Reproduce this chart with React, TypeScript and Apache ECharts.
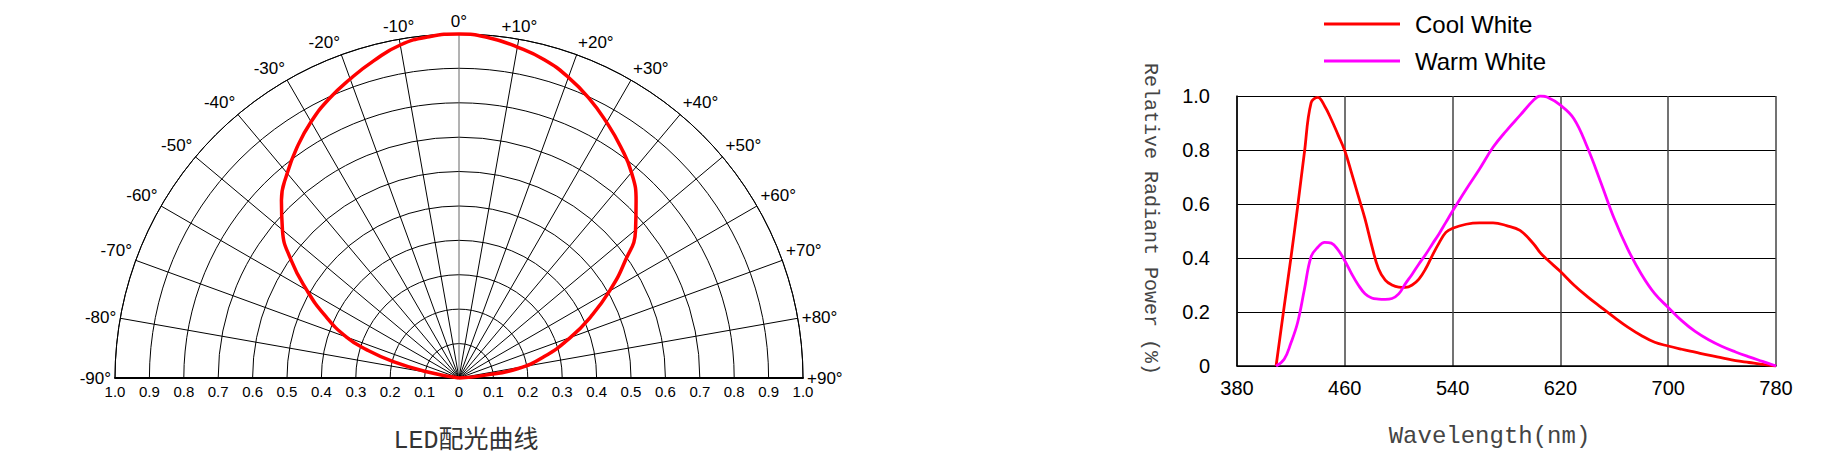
import React, { useEffect, useRef } from 'react';
import * as echarts from 'echarts';

// ---- Polar (LED light distribution) ----
const polarAngles = [
  -90, -79, -76, -73, -70, -65, -60, -55, -50, -45, -40, -35, -30, -25, -20, -15, -10, -5,
  0, 5, 10, 15, 20, 25, 30, 35, 40, 45, 50, 55, 60, 65, 70, 76, 81, 84, 90,
];
const polarIntensity = [
  0, 0.096, 0.197, 0.28, 0.348, 0.43, 0.511, 0.595, 0.67, 0.73, 0.777, 0.82, 0.86, 0.895, 0.925, 0.955, 0.983, 0.996,
  1.0, 0.993, 0.977, 0.958, 0.93, 0.896, 0.858, 0.82, 0.78, 0.728, 0.67, 0.588, 0.505, 0.423, 0.345, 0.254, 0.172, 0.073, 0,
];
const polarTitle = 'LED配光曲线';

// ---- Spectrum ----
const wavelengths = [
  409, 415, 420, 425, 430, 435, 440, 445, 450, 455,
  460, 465, 470, 475, 480, 485, 490, 495, 500, 505,
  510, 515, 520, 525, 530, 535, 540, 550, 560, 570,
  580, 590, 600, 605, 610, 620, 630, 640, 650, 660,
  670, 680, 690, 700, 710, 720, 730, 740, 750, 760,
  770, 780,
];
const coolWhite = [
  0, 0.22, 0.4, 0.59, 0.79, 0.975, 0.995, 0.963, 0.913, 0.856,
  0.797, 0.715, 0.63, 0.545, 0.446, 0.36, 0.318, 0.3, 0.292, 0.291,
  0.3, 0.322, 0.36, 0.41, 0.456, 0.495, 0.51, 0.525, 0.53, 0.53,
  0.52, 0.502, 0.453, 0.42, 0.395, 0.35, 0.3, 0.257, 0.218, 0.18,
  0.144, 0.113, 0.088, 0.074, 0.062, 0.051, 0.04, 0.03, 0.02, 0.013,
  0.006, 0,
];
const warmWhite = [
  0, 0.025, 0.085, 0.161, 0.283, 0.405, 0.44, 0.458, 0.455, 0.43,
  0.39, 0.342, 0.3, 0.268, 0.252, 0.248, 0.247, 0.25, 0.267, 0.305,
  0.34, 0.378, 0.413, 0.452, 0.49, 0.532, 0.574, 0.654, 0.73, 0.81,
  0.872, 0.928, 0.984, 1.0, 0.996, 0.966, 0.916, 0.81, 0.68, 0.545,
  0.433, 0.341, 0.268, 0.217, 0.168, 0.128, 0.097, 0.072, 0.052, 0.034,
  0.017, 0,
];
const seriesNames = ['Cool White', 'Warm White'];
const xAxisName = 'Wavelength(nm)';
const yAxisName = 'Relative Radiant Power (%)';

const SANS = '"Liberation Sans", Arial, sans-serif';
const MONO = '"Liberation Mono", "Noto Sans CJK SC", monospace';

export default function App() {
  const ref = useRef<HTMLDivElement>(null);

  useEffect(() => {
    if (!ref.current) return;
    const chart = echarts.init(ref.current, null, { renderer: 'svg', width: 1826, height: 460 });

    // radial line colours: 0° line is grey as in the reference
    const radialColors = Array.from({ length: 19 }, (_, i) => (i === 9 ? '#666' : '#000'));

    // polar curve expressed in the overlaid square cartesian grid (x = r·sinθ, y = r·cosθ)
    const polarCurve = polarAngles.map((a, i) => {
      const r = polarIntensity[i];
      const t = (a * Math.PI) / 180;
      return [r * Math.sin(t), r * Math.cos(t)];
    });

    const option: any = {
      animation: false,
      backgroundColor: '#ffffff',
      title: [
        {
          text: polarTitle,
          left: 461,
          top: 424,
          textAlign: 'center',
          textStyle: { fontFamily: MONO, fontSize: 25, fontWeight: 'normal', color: '#333' },
        },
      ],
      legend: {
        data: seriesNames,
        orient: 'vertical',
        left: 1319,
        top: 6,
        icon: 'rect',
        itemWidth: 76,
        itemHeight: 3,
        itemGap: 11,
        textStyle: { fontFamily: SANS, fontSize: 24, color: '#000', lineHeight: 26, padding: [0, 0, 0, 10] },
      },
      polar: { center: [459, 378], radius: 344 },
      angleAxis: {
        type: 'value',
        min: -90,
        max: 90,
        interval: 10,
        startAngle: 180,
        endAngle: 0,
        clockwise: true,
        axisLine: { show: true, lineStyle: { color: '#000', width: 1 } },
        axisTick: { show: false },
        splitLine: { show: true, lineStyle: { color: radialColors, width: 1 } },
        axisLabel: {
          margin: 4,
          fontFamily: SANS,
          fontSize: 17,
          color: '#000',
          formatter: (v: number) => (v > 0 ? '+' : '') + v + '°',
        },
      },
      radiusAxis: {
        type: 'value',
        min: 0,
        max: 1,
        interval: 0.1,
        axisLine: { show: false },
        axisTick: { show: false },
        axisLabel: { show: false },
        splitLine: { show: true, lineStyle: { color: '#000', width: 1 } },
      },
      grid: [
        { left: 115, right: 1023, top: 34, bottom: 82 },
        { left: 1237, right: 50, top: 96, bottom: 94 },
      ],
      xAxis: [
        {
          gridIndex: 0,
          type: 'value',
          min: -1,
          max: 1,
          interval: 0.1,
          axisLine: { show: true, lineStyle: { color: '#000', width: 2 } },
          axisTick: { show: false },
          splitLine: { show: false },
          axisLabel: {
            margin: 6,
            fontFamily: SANS,
            fontSize: 15,
            color: '#000',
            formatter: (v: number) => {
              const a = Math.abs(v);
              return a < 1e-9 ? '0' : a.toFixed(1);
            },
          },
        },
        {
          gridIndex: 1,
          type: 'value',
          min: 380,
          max: 780,
          interval: 80,
          name: xAxisName,
          nameLocation: 'middle',
          nameGap: 58,
          nameTextStyle: { fontFamily: MONO, fontSize: 24, color: '#444', padding: [0, 34, 0, 0] },
          axisLine: { show: true, lineStyle: { color: '#000', width: 1.5 } },
          axisTick: { show: false },
          splitLine: { show: true, lineStyle: { color: '#444', width: 1.5 } },
          axisLabel: { margin: 12, fontFamily: SANS, fontSize: 20, color: '#000' },
        },
      ],
      yAxis: [
        { gridIndex: 0, type: 'value', min: 0, max: 1, show: false },
        {
          gridIndex: 1,
          type: 'value',
          min: 0,
          max: 1,
          interval: 0.2,
          name: yAxisName,
          nameLocation: 'middle',
          nameRotate: -90,
          nameGap: 77,
          nameTextStyle: { fontFamily: MONO, fontSize: 20, color: '#444', padding: [0, 24, 0, 0] },
          axisLine: { show: true, lineStyle: { color: '#000', width: 1.5 } },
          axisTick: { show: false },
          splitLine: { show: true, lineStyle: { color: '#000', width: 1.2 } },
          axisLabel: {
            margin: 27,
            fontFamily: SANS,
            fontSize: 20,
            color: '#000',
            formatter: (v: number) => (v === 0 ? '0' : v.toFixed(1)),
          },
        },
      ],
      series: [
        {
          name: 'LED',
          type: 'line',
          xAxisIndex: 0,
          yAxisIndex: 0,
          data: polarCurve,
          smooth: 0.5,
          symbol: 'none',
          clip: false,
          color: '#ff0000',
          lineStyle: { color: '#ff0000', width: 3.5 },
          z: 5,
        },
        {
          name: seriesNames[0],
          type: 'line',
          xAxisIndex: 1,
          yAxisIndex: 1,
          data: wavelengths.map((w, i) => [w, coolWhite[i]]),
          smooth: 0.4,
          symbol: 'none',
          color: '#ff0000',
          lineStyle: { color: '#ff0000', width: 2.8 },
          z: 5,
        },
        {
          name: seriesNames[1],
          type: 'line',
          xAxisIndex: 1,
          yAxisIndex: 1,
          data: wavelengths.map((w, i) => [w, warmWhite[i]]),
          smooth: 0.4,
          symbol: 'none',
          color: '#ff00ff',
          lineStyle: { color: '#ff00ff', width: 2.8 },
          z: 5,
        },
      ],
    };

    chart.setOption(option);
    return () => chart.dispose();
  }, []);

  return (
    <div
      ref={ref}
      style={{ position: 'absolute', left: 0, top: 0, width: '1826px', height: '460px', background: '#fff' }}
    />
  );
}
